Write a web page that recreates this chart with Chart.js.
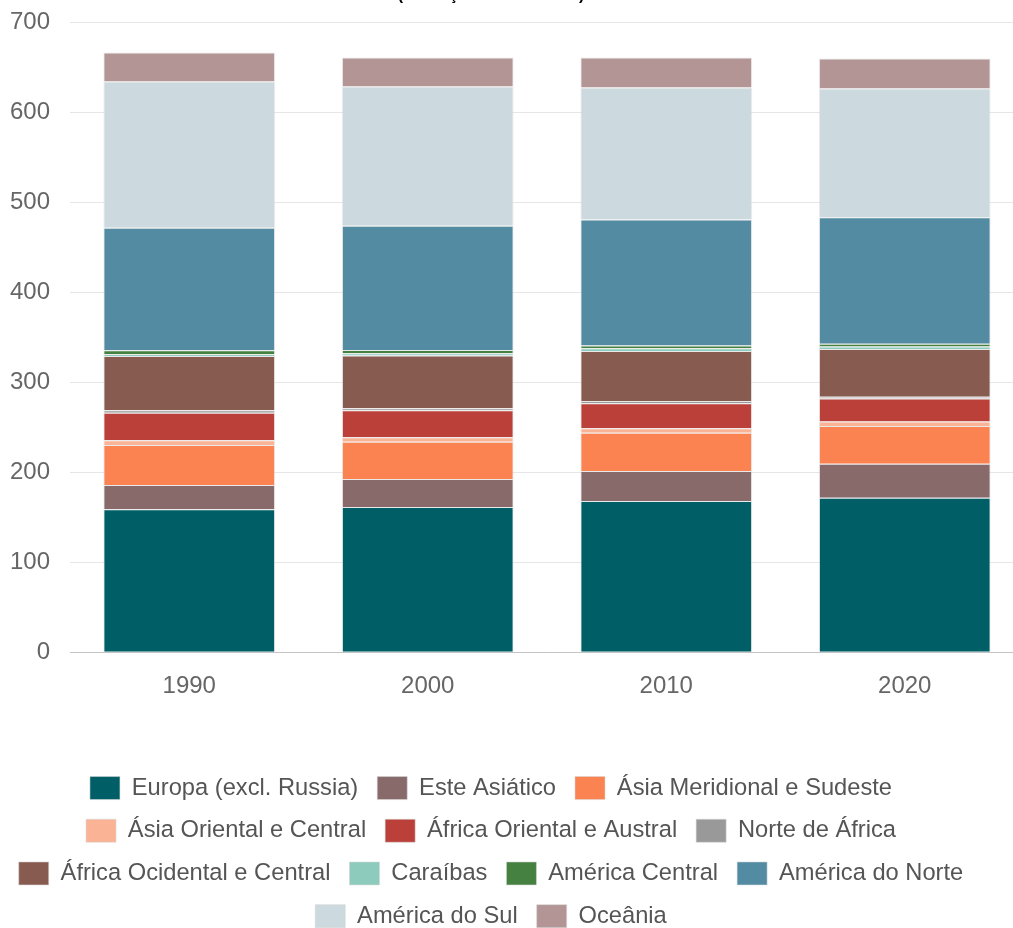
<!DOCTYPE html>
<html lang="pt">
<head>
<meta charset="utf-8">
<title>Produção por região</title>
<script src="https://cdn.jsdelivr.net/npm/chart.js@4.4.1/dist/chart.umd.min.js"></script>
<style>
  html, body { margin: 0; padding: 0; background: #fff; }
  #wrap { position: relative; width: 1013px; height: 928px; overflow: hidden; }
  #chart { position: absolute; left: -42px; top: -40px; }
</style>
</head>
<body>
<div id="wrap">
  <canvas id="chart" width="1066" height="978"></canvas>
</div>
<script>
"use strict";

const years = ["1990", "2000", "2010", "2020"];

const europa = [158.8, 161.4, 168.0, 171.7];
const esteAsiatico = [27.0, 31.2, 33.4, 37.8];
const asiaMeridional = [44.5, 41.2, 42.6, 42.0];
const asiaOriental = [5.2, 5.0, 4.9, 4.8];
const africaOriental = [30.7, 30.2, 27.8, 25.6];
const norteAfrica = [2.7, 2.2, 2.6, 1.9];
const africaOcidental = [60.4, 58.5, 55.6, 53.1];
const caraibas = [1.9, 2.5, 3.0, 3.0];
const americaCentral = [4.5, 3.8, 3.0, 2.9];
const americaNorte = [136.1, 138.1, 140.1, 140.7];
const americaSul = [162.5, 154.7, 146.7, 143.0];
const oceania = [32.3, 32.2, 33.3, 33.4];

const yTicks = [0, 100, 200, 300, 400, 500, 600, 700];

const series = [
  ["Europa (excl. Russia)", europa, "#005f66"],
  ["Este Asiático", esteAsiatico, "#886a6b"],
  ["Ásia Meridional e Sudeste", asiaMeridional, "#fb8351"],
  ["Ásia Oriental e Central", asiaOriental, "#fbb395"],
  ["África Oriental e Austral", africaOriental, "#bb403a"],
  ["Norte de África", norteAfrica, "#999999"],
  ["África Ocidental e Central", africaOcidental, "#885b51"],
  ["Caraíbas", caraibas, "#8dcbbd"],
  ["América Central", americaCentral, "#458140"],
  ["América do Norte", americaNorte, "#538ba3"],
  ["América do Sul", americaSul, "#ccd9de"],
  ["Oceânia", oceania, "#b29594"],
];

const font = "'Liberation Sans', Arial, Helvetica, sans-serif";

const ctx = document.getElementById("chart").getContext("2d");

new Chart(ctx, {
  type: "bar",
  data: {
    labels: years,
    datasets: series.map(([label, data, color]) => ({
      label,
      data,
      backgroundColor: color,
      borderColor: "rgba(215, 215, 215, 0.55)",
      borderWidth: 1,
    })),
  },
  options: {
    responsive: false,
    animation: false,
    devicePixelRatio: 1,
    layout: { padding: 0 },
    plugins: {
      title: {
        display: true,
        text: ["Produção por região", "(Produção em milhões t)"],
        color: "#000",
        font: { family: font, size: 16, weight: "bold" },
        padding: { top: 7, bottom: 17 },
      },
      legend: {
        position: "bottom",
        labels: {
          color: "#555",
          font: { family: font, size: 23.7 },
          boxWidth: 30,
          boxHeight: 23,
          padding: 19,
        },
      },
      tooltip: { enabled: false },
    },
    scales: {
      x: {
        stacked: true,
        grid: { display: false },
        border: { display: true, color: "#c4c4c4", width: 1 },
        ticks: {
          color: "#666",
          padding: 12,
          font: { family: font, size: 24 },
        },
        afterFit: (scale) => {
          scale.height = 105;
        },
      },
      y: {
        stacked: true,
        min: 0,
        max: 700,
        afterBuildTicks: (scale) => {
          scale.ticks = yTicks.map((value) => ({ value }));
        },
        grid: { color: "#e6e6e6", drawTicks: false },
        border: { display: false },
        ticks: {
          color: "#666",
          padding: 20,
          font: { family: font, size: 24 },
        },
        afterFit: (scale) => {
          scale.width = 112;
        },
      },
    },
  },
});
</script>
</body>
</html>
